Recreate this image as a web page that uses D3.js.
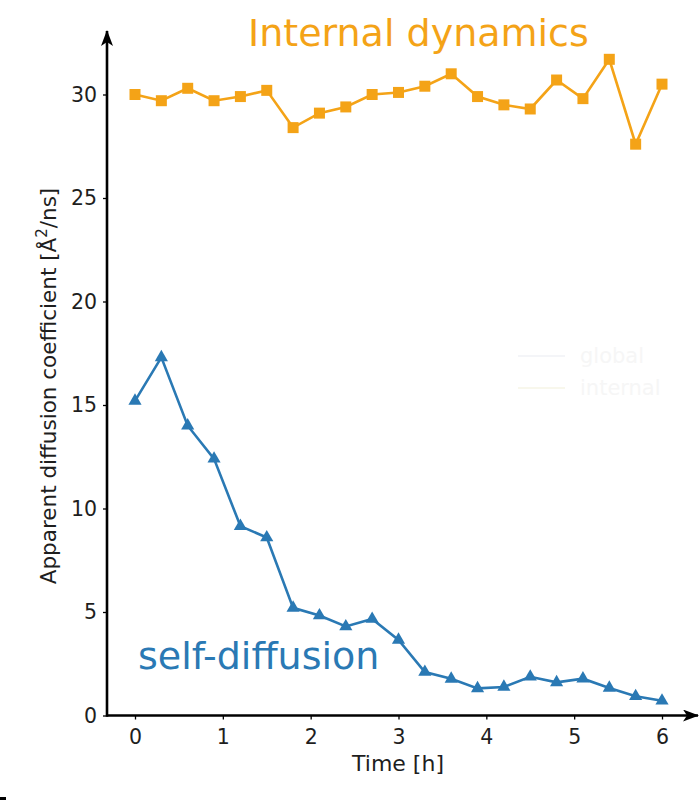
<!DOCTYPE html>
<html>
<head>
<meta charset="utf-8">
<script src="https://cdn.jsdelivr.net/npm/d3@7"></script>
<style>
  html, body { margin: 0; padding: 0; background: #fff; }
  svg { display: block; font-family: "DejaVu Sans", sans-serif; }
</style>
</head>
<body>
<svg id="chart" width="700" height="811"></svg>
<script>
// ---- data ----
const timeH = [0, 0.3, 0.6, 0.9, 1.2, 1.5, 1.8, 2.1, 2.4, 2.7, 3.0, 3.3, 3.6, 3.9, 4.2, 4.5, 4.8, 5.1, 5.4, 5.7, 6.0];
const internalValues = [30.0, 29.7, 30.3, 29.7, 29.9, 30.2, 28.4, 29.1, 29.4, 30.0, 30.1, 30.4, 31.0, 29.9, 29.5, 29.3, 30.7, 29.8, 31.7, 27.6, 30.5];
const globalValues = [15.2, 17.3, 14.0, 12.4, 9.15, 8.6, 5.2, 4.83, 4.3, 4.66, 3.65, 2.1, 1.77, 1.31, 1.38, 1.87, 1.6, 1.78, 1.33, 0.93, 0.71];
const xTicks = [0, 1, 2, 3, 4, 5, 6];
const yTicks = [0, 5, 10, 15, 20, 25, 30];
const legendLabels = ["global", "internal"];

const orange = "#f4a317";
const blue = "#2a79b4";

const svg = d3.select("#chart");
const x = d3.scaleLinear().domain([0, 6]).range([135, 662]);
const y = d3.scaleLinear().domain([0, 30]).range([715.5, 94.5]);

// arrow markers
const defs = svg.append("defs");
defs.append("marker")
  .attr("id", "arrow").attr("viewBox", "0 0 16 12").attr("refX", 15).attr("refY", 6)
  .attr("markerWidth", 16).attr("markerHeight", 12).attr("markerUnits", "userSpaceOnUse")
  .attr("orient", "auto")
  .append("path").attr("d", "M0,0 L16,6 L0,12 L4,6 Z").attr("fill", "#000");

// axes lines
svg.append("line").attr("x1", 107).attr("y1", y(0)).attr("x2", 698).attr("y2", y(0))
  .attr("stroke", "#000").attr("stroke-width", 2.6).attr("marker-end", "url(#arrow)");
svg.append("line").attr("x1", 107).attr("y1", y(0) + 1.3).attr("x2", 107).attr("y2", 31)
  .attr("stroke", "#000").attr("stroke-width", 2.6).attr("marker-end", "url(#arrow)");

// y axis ticks
const yAxis = svg.append("g").attr("transform", "translate(107,0)")
  .call(d3.axisLeft(y).tickValues(yTicks).tickSize(4).tickPadding(6));
yAxis.select(".domain").remove();
yAxis.selectAll("text").attr("font-size", 20.5).attr("font-family", "DejaVu Sans").attr("fill", "#1e1e1e");
yAxis.selectAll("line").attr("stroke", "#000").attr("stroke-width", 1.3);

// x axis ticks
const xAxis = svg.append("g").attr("transform", `translate(0,${y(0)})`)
  .call(d3.axisBottom(x).tickValues(xTicks).tickFormat(d3.format("d")).tickSize(4).tickPadding(10));
xAxis.select(".domain").remove();
xAxis.selectAll("text").attr("font-size", 20.5).attr("font-family", "DejaVu Sans").attr("fill", "#1e1e1e");
xAxis.selectAll("line").attr("stroke", "#000").attr("stroke-width", 1.3);

// axis labels
svg.append("text").attr("x", 398).attr("y", 771).attr("text-anchor", "middle")
  .attr("font-size", 22).attr("fill", "#1e1e1e").text("Time [h]");
const yl = svg.append("text").attr("transform", "translate(56,386) rotate(-90)")
  .attr("text-anchor", "middle").attr("font-size", 21.5).attr("fill", "#1e1e1e");
yl.append("tspan").text("Apparent diffusion coefficient [Å");
yl.append("tspan").attr("dy", -9).attr("font-size", 15).text("2");
yl.append("tspan").attr("dy", 9).text("/ns]");

// lines
const line = vals => d3.line().x((d, i) => x(timeH[i])).y(d => y(d))(vals);
svg.append("path").attr("d", line(internalValues)).attr("fill", "none")
  .attr("stroke", orange).attr("stroke-width", 2.6);
svg.append("path").attr("d", line(globalValues)).attr("fill", "none")
  .attr("stroke", blue).attr("stroke-width", 2.6);

// markers
svg.append("g").selectAll("rect").data(internalValues).join("rect")
  .attr("x", (d, i) => x(timeH[i]) - 5.5).attr("y", d => y(d) - 5.5)
  .attr("width", 11).attr("height", 11).attr("fill", orange);
const tri = d3.symbol().type(d3.symbolTriangle).size(75);
svg.append("g").selectAll("path").data(globalValues).join("path")
  .attr("transform", (d, i) => `translate(${x(timeH[i])},${y(d)})`)
  .attr("d", tri).attr("fill", blue);

// annotations
svg.append("text").attr("x", 248).attr("y", 46).attr("font-size", 38).attr("fill", orange).text("Internal dynamics");
svg.append("text").attr("x", 138).attr("y", 669).attr("font-size", 38).attr("fill", blue).text("self-diffusion");

// faint legend
const lg = svg.append("g");
const legendColors = ["#f4f5f8", "#f8f7ec"];
legendLabels.forEach((lab, i) => {
  const ly = 356 + i * 32;
  lg.append("line").attr("x1", 518).attr("x2", 565).attr("y1", ly).attr("y2", ly)
    .attr("stroke", legendColors[i]).attr("stroke-width", 2);
  lg.append("text").attr("x", 580).attr("y", ly + 7).attr("font-size", 21)
    .attr("fill", "#f6f6f6").text(lab);
});

// stray mark bottom-left
svg.append("rect").attr("x", 0).attr("y", 797).attr("width", 6).attr("height", 3).attr("fill", "#000");
</script>
</body>
</html>
